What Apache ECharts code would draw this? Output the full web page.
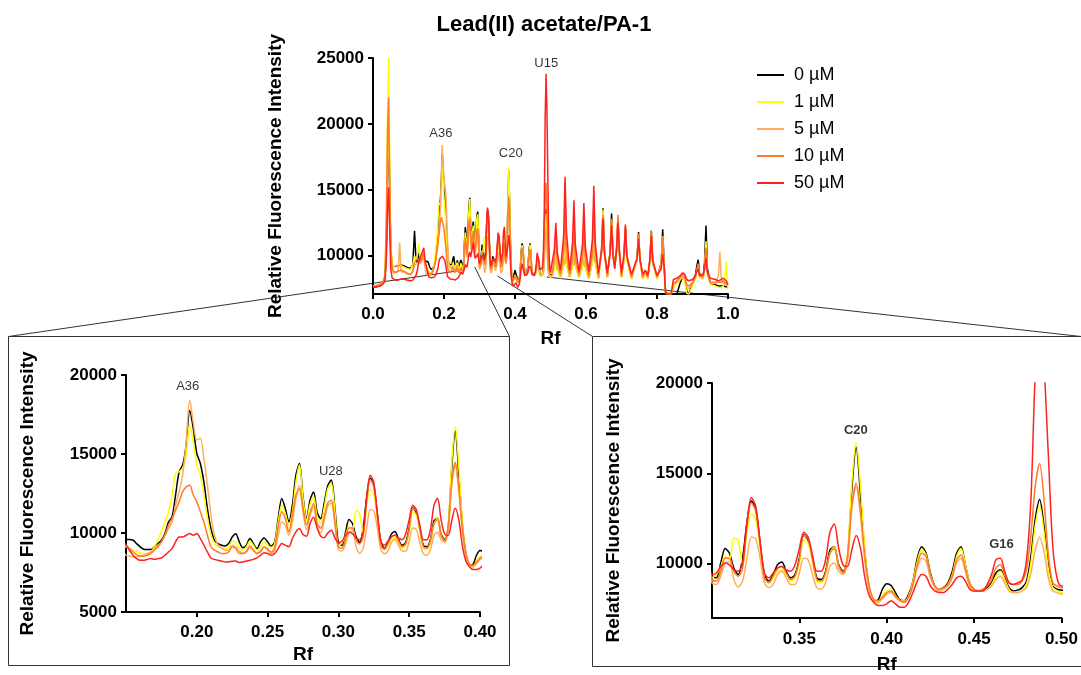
<!DOCTYPE html>
<html><head><meta charset="utf-8">
<script src="https://cdn.jsdelivr.net/npm/echarts@6/dist/echarts.min.js"></script>
<style>html,body{margin:0;padding:0;background:#fff}#c{width:1081px;height:675px}</style>
</head><body><div id="c"></div>
<script>
const FONT = '"Liberation Sans", Arial, Helvetica, sans-serif';
const seriesNames = ['0 µM', '1 µM', '5 µM', '10 µM', '50 µM'];
const seriesColors = ['#000000', '#FFFF00', '#FFAD5C', '#FF7C2A', '#FF2020'];

// ---------- Rf positions ----------
const rfA = [0,0.01,0.02,0.028,0.034,0.038,0.041,0.044,0.047,0.05,
  0.054,0.058,0.064,0.071,0.075,0.079,0.084,0.09,0.098,0.106,
  0.112,0.117,0.121,0.125,0.129,0.133,0.138,0.143,0.147];
const rfB = [0.15,0.1525,0.155,0.1575,0.16,0.1625,0.165,0.1675,0.17,0.1725,
  0.175,0.1775,0.18,0.1825,0.185,0.1875,0.19,0.1925,0.195,0.1975,
  0.2,0.2025,0.205,0.2075,0.21,0.2125,0.215,0.2175,0.22,0.2225,
  0.225,0.2275,0.23,0.2325,0.235,0.2375,0.24,0.2425,0.245,0.2475,
  0.25,0.2525,0.255,0.2575,0.26,0.2625,0.265,0.2675,0.27,0.2725,
  0.275,0.2775,0.28,0.2825,0.285,0.2875,0.29,0.2925,0.295,0.2975,
  0.3,0.3025,0.305,0.3075,0.31,0.3125,0.315,0.3175,0.32,0.3225,
  0.325,0.3275,0.33,0.3325,0.335,0.3375,0.34,0.3425,0.345,0.3475,
  0.35,0.3525,0.355,0.3575,0.36,0.3625,0.365,0.3675,0.37,0.3725,
  0.375,0.3775,0.38,0.3825,0.385,0.3875,0.39,0.3925,0.395,0.3975,
  0.4,0.4025,0.405,0.4075,0.41,0.4125,0.415,0.4175,0.42,0.4225,
  0.425,0.4275,0.43,0.4325,0.435,0.4375,0.44,0.4425,0.445,0.4475,
  0.45,0.4525,0.455,0.4575,0.46,0.4625,0.465,0.4675,0.47,0.4725,
  0.475,0.4775,0.48,0.4825,0.485,0.4875,0.49,0.4925,0.495,0.4975,
  0.5];
const rfC = [0.505,0.511,0.515,0.519,0.528,0.537,0.541,0.545,0.554,0.562,
  0.566,0.57,0.58,0.59,0.594,0.598,0.608,0.618,0.622,0.626,
  0.635,0.644,0.648,0.652,0.66,0.668,0.672,0.676,0.681,0.686,
  0.69,0.694,0.7,0.707,0.711,0.715,0.728,0.744,0.748,0.752,
  0.76,0.767,0.774,0.78,0.784,0.788,0.8,0.812,0.816,0.82,
  0.824,0.828,0.84,0.846,0.856,0.866,0.872,0.878,0.884,0.89,
  0.9,0.908,0.912,0.916,0.92,0.93,0.934,0.938,0.942,0.95,
  0.965,0.973,0.977,0.981,0.987,0.991,0.995,0.998,1.0];

// ---------- 0 µM ----------
const c0A = [7600,7650,7750,7900,8300,11000,16500,20300,15000,10500,
  9300,9100,9200,9200,9250,9300,9350,9200,9100,9050,
  9300,11900,9700,9500,10200,9700,9600,9800,9600];
const c0B = [9590,9590,9540,9330,9120,8970,8950,8950,9120,9330,
  9540,9960,10700,11020,12400,13870,14300,15570,17750,16620,
  15040,14400,13240,11550,10280,9540,9330,9230,9180,9330,
  9750,9960,9440,9060,9230,9650,9330,9010,9440,9690,
  9440,9170,9440,10920,12180,11550,10700,11760,13660,14400,
  12300,10900,12100,12600,11300,10900,11900,13000,13350,11600,
  9370,9220,10040,10850,10580,9760,9400,10320,12290,13470,
  13020,11210,9400,9040,9400,9950,10100,9580,9220,9400,
  10310,11600,11300,10310,9220,9130,9580,10760,10940,9940,
  9580,10310,14100,16450,13790,10580,8680,7960,8000,8590,
  8900,8800,8400,8000,7960,8300,9040,10310,10940,10580,
  9490,8770,8590,8680,8950,9580,10580,10940,9940,8950,
  8590,8500,8540,8680,8950,9490,9670,9220,8680,8500,
  8540,8680,9040,10400,12470,13560,12110,9940,8770,8590,
  8540];
const c0C = [8500,9200,10500,9000,8400,9300,11000,9400,8400,9300,
  11300,9300,8400,9200,11000,9200,8300,9600,12000,9600,
  8300,10500,13600,10400,8400,10300,13200,10200,9200,10400,
  12800,10300,8400,9800,12000,9800,8300,9800,11800,9700,
  8300,8800,8300,9600,11900,9500,8300,9500,12000,9500,
  7200,7100,7100,7100,7100,8000,8400,8300,7300,7100,
  7900,8500,9200,9700,8600,8400,9500,12300,9000,7900,
  7800,7700,7700,7700,7700,7650,7650,7600,7600];

// ---------- 1 µM ----------
const c1A = [7700,7750,7850,8000,8600,14000,21000,25000,17500,11000,
  9500,9100,9150,9150,9200,9250,9300,9100,9000,8950,
  9300,10000,9700,10000,10900,9800,9700,9900,9300];
const c1B = [9120,9060,8910,8800,8740,8700,8650,8800,9120,9540,
  10070,10700,11340,12400,13770,13870,14090,14930,16830,15780,
  14300,13660,12400,10920,9860,9330,9120,9060,9015,9120,
  9480,9400,9060,8910,9120,9480,9230,8910,9120,9440,
  9230,9060,9330,10700,11760,11230,10490,11340,13240,14300,
  12200,10800,11800,12290,11000,10600,11600,12800,13140,11400,
  9220,9400,9850,10400,10220,11430,11250,9940,11750,12750,
  12470,10940,9220,8950,9220,9580,9670,9400,9040,9220,
  10040,11300,11120,10130,9040,8950,9400,10580,10940,9850,
  9490,10490,14460,16720,14280,10760,8680,7870,7780,8230,
  8500,8590,8230,7960,7870,8200,9000,10130,10800,10490,
  9400,8770,8590,8590,8860,9400,10400,10850,9940,8950,
  8590,8500,8500,8590,8860,9310,9580,9130,8590,8410,
  8410,8500,8860,10040,12110,13200,11750,9670,8680,8500,
  8410];
const c1C = [8400,9100,10300,8900,8300,9200,10800,9300,8300,9200,
  11000,9200,8300,9100,10800,9100,8200,9500,11700,9500,
  8200,10500,13500,10300,8300,10100,12700,10000,9100,10200,
  12500,10100,8300,9700,11800,9700,8200,9700,11500,9600,
  8200,8700,8200,9500,11600,9400,8200,9400,11500,9300,
  7200,7100,7100,7500,7900,8200,8400,8000,7150,7100,
  7700,8200,8800,9300,8400,8200,9000,11100,8700,7800,
  7700,7600,7600,7600,7700,8200,9600,7800,7500];

// ---------- 5 µM ----------
const c5A = [7650,7700,7800,7950,8400,12000,17500,19500,14500,10000,
  9000,8700,8700,8800,11000,8800,8900,8700,8600,8550,
  8800,9300,9200,9400,9700,9400,9400,9900,9000];
const c5B = [8590,8550,8490,8490,8550,8590,8700,8800,9015,9230,
  9440,9860,10280,10700,11760,12600,13660,15780,18400,17000,
  15880,16000,14720,13030,11130,9860,9230,9060,8910,8910,
  9230,9120,8850,8700,8850,9230,8910,8700,8910,9120,
  8910,8700,8910,9860,10700,10490,9860,10700,12180,13030,
  11300,10200,11100,11700,10400,10000,10800,11700,11900,10600,
  8950,8860,9310,10040,10130,9130,8720,9040,10310,11480,
  11390,10310,8950,8680,8860,9400,9580,9220,8860,8860,
  9490,10310,10220,9400,8680,8590,8950,9850,10040,9580,
  9400,10130,13020,14280,12650,10130,8590,8000,7870,8050,
  8320,8410,8140,7960,7960,8140,8770,9760,10310,10130,
  9220,8680,8500,8590,8770,9220,10040,10310,9580,8770,
  8500,8500,8500,8590,8770,9130,9310,8950,8500,8410,
  8410,8500,8680,9490,10760,11480,10670,9220,8500,8410,
  8320];
const c5C = [8500,9500,11200,9300,8400,9800,12500,9900,8400,9600,
  12000,9500,8400,9500,12000,9500,8300,9900,13000,9900,
  8300,10300,12900,10200,8400,10100,12600,10000,9200,10400,
  12900,10300,8400,9900,12100,9900,8300,9700,11600,9600,
  8300,8800,8300,9600,11700,9500,8300,9300,11200,9300,
  7300,7100,7100,7800,8000,8300,8500,8200,7600,7500,
  7900,8300,8800,9200,8400,8300,9000,10500,8600,7900,
  7900,8500,10300,8200,7900,7900,7800,7800,7700];

// ---------- 10 µM ----------
const c10A = [7700,7750,7850,8000,8500,13500,19500,22000,16000,10500,
  9100,8800,8750,8850,9000,8900,8950,8800,8650,8600,
  8800,9500,9400,9800,9900,9500,9600,10200,9400];
const c10B = [9230,9015,8800,8630,8550,8530,8590,8700,8910,9120,
  9440,9860,10490,10920,11440,11970,12600,12920,13030,12400,
  11970,11340,10700,9860,9120,8910,8800,8700,8700,8800,
  9120,9015,8700,8700,8800,9120,8910,8700,8800,9120,
  9015,8800,9060,10390,11340,10920,10070,11130,12400,12800,
  11600,10500,11300,11870,10600,10300,11000,11900,12080,10700,
  9130,9040,9580,10310,10310,9580,9310,9760,12020,13380,
  12920,11120,9220,8950,9310,9760,9850,9490,9130,9310,
  10220,11570,11390,10220,9130,9040,9490,10580,10850,9850,
  9490,10400,13200,14460,12920,10400,8770,8050,7960,8140,
  8410,8500,8230,7960,7870,8140,8860,9940,10580,10400,
  9400,8770,8590,8680,8860,9310,10220,10490,9760,8860,
  8590,8500,8590,8770,9130,9760,9940,9400,8950,8860,
  8860,9040,9670,11570,14280,15540,13560,10490,8950,8770,
  8680];
const c10C = [8700,10000,11800,9800,8600,10300,13500,10400,8600,10000,
  12700,9900,8600,9900,12500,9900,8500,10300,13800,10300,
  8500,10500,13100,10300,8500,10300,12800,10200,9300,10600,
  13100,10400,8500,10100,12400,10000,8400,9900,11700,9800,
  8400,8900,8400,9800,11900,9700,8400,9300,11400,9300,
  7300,7100,7100,7900,8100,8400,8700,8500,7800,7700,
  8000,8400,8900,9400,8500,8400,9000,10600,8700,8000,
  8000,8000,8000,8000,8100,8000,7900,7900,7800];

// ---------- 50 µM ----------
const c50A = [7600,7650,7700,7850,8100,10000,13500,15200,12000,9000,
  8300,8200,8150,8150,8200,8250,8300,8200,8150,8100,
  8150,8300,8500,8900,9600,9700,10200,10600,9600];
const c50B = [9230,8910,8590,8380,8270,8270,8330,8380,8330,8380,
  8420,8590,8800,9010,9440,9750,9750,9860,9970,9860,
  9970,9650,9230,8800,8420,8330,8270,8230,8170,8170,
  8210,8230,8130,8170,8230,8270,8330,8420,8590,8750,
  8700,8590,8700,9010,9330,9230,9130,9650,10070,10280,
  9900,9800,10600,11000,10300,9800,9700,10000,10180,9700,
  9400,9490,9850,10040,9940,9670,9580,10040,12290,13650,
  13200,11210,9490,9220,9490,9760,9850,9670,9580,9940,
  10850,11750,11480,10490,9580,9580,10220,11750,12200,10850,
  9940,9850,10760,11570,10850,9220,8230,7870,7690,7690,
  7780,7960,7780,7600,7600,7870,8410,9040,9400,9310,
  8770,8500,8410,8410,8590,8860,9220,9310,9040,8590,
  8500,8500,8500,8860,9400,10220,10310,9580,8950,8860,
  8950,9100,10200,13500,20500,23800,21000,16000,11000,9200,
  8770];
const c50C = [8800,10500,12500,10300,8900,11500,16000,11800,8900,11000,
  14200,10800,8800,10800,14000,10700,8800,11200,15300,11000,
  8700,10400,12800,10200,8700,10200,12300,10000,9000,10400,
  12500,10300,8700,10100,12300,10000,8600,9800,11300,9700,
  8600,8900,8500,9700,11500,9600,8500,9000,10100,9200,
  7300,7100,7100,8200,8300,8500,8700,8600,8200,8100,
  8200,8500,8800,9000,8500,8600,9000,9800,8800,8300,
  8200,8100,8100,8200,8300,8350,8100,7950,7800];

// ---------- peak annotations ----------
const annoMainNames = ['A36', 'C20', 'U15'];
const annoMainRf = [0.191, 0.388, 0.488];
const annoMainVal = [19300, 17740, 24620];
const annoLeftNames = ['A36', 'U28'];
const annoLeftRf = [0.1936, 0.2947];
const annoLeftVal = [19260, 13905];
const annoRightNames = ['C20', 'G16'];
const annoRightRf = [0.3823, 0.4657];
const annoRightVal = [17384, 11083];

// ---------- axis ticks ----------
const mainYTicks = [10000, 15000, 20000, 25000];
const leftXTicks = [0.2, 0.25, 0.3, 0.35, 0.4];
const rightXTicks = [0.35, 0.4, 0.45, 0.5];
const rightYTicks = [10000, 15000, 20000];

const rf = rfA.concat(rfB, rfC);
const curves = [
  c0A.concat(c0B, c0C), c1A.concat(c1B, c1C), c5A.concat(c5B, c5C),
  c10A.concat(c10B, c10C), c50A.concat(c50B, c50C)
];
curves.forEach((c, i) => { if (c.length !== rf.length) throw new Error('len mismatch ' + i + ': ' + c.length + ' vs ' + rf.length); });

const chart = echarts.init(document.getElementById('c'), null, { renderer: 'canvas' });

const bold = (size) => ({ fontFamily: FONT, fontSize: size, fontWeight: 'bold', color: '#000' });
const axisLineStyle = { show: true, lineStyle: { color: '#000', width: 2 } };
const tickStyle = (vals) => {
  const t = { show: true, length: 5, lineStyle: { color: '#000', width: 2 } };
  if (vals) t.customValues = vals;
  return t;
};

function makeX(g, min, max, labelVals, decimals, nameGap, margin, interval) {
  const ax = {
    gridIndex: g, type: 'value', min: min, max: max,
    axisLine: axisLineStyle, splitLine: { show: false },
    axisTick: tickStyle(labelVals),
    axisLabel: Object.assign(bold(17), { margin: margin, formatter: (v) => Number(v).toFixed(decimals) }),
    name: 'Rf', nameLocation: 'middle', nameGap: nameGap, nameTextStyle: bold(19)
  };
  if (labelVals) ax.axisLabel.customValues = labelVals;
  if (interval) ax.interval = interval;
  return ax;
}
function makeY(g, min, max, labelVals, nameGap, interval) {
  const ax = {
    gridIndex: g, type: 'value', min: min, max: max,
    axisLine: axisLineStyle, splitLine: { show: false },
    axisTick: tickStyle(labelVals),
    axisLabel: Object.assign(bold(17), { margin: 9, formatter: (v) => String(v) }),
    name: 'Relative Fluorescence Intensity', nameLocation: 'middle', nameGap: nameGap,
    nameTextStyle: bold(19)
  };
  if (labelVals) ax.axisLabel.customValues = labelVals;
  if (interval) ax.interval = interval;
  return ax;
}

const series = [];
[0, 1, 2].forEach((g) => {
  curves.forEach((c, k) => {
    series.push({
      type: 'line', name: seriesNames[k], xAxisIndex: g, yAxisIndex: g,
      data: rf.map((x, i) => [x, c[i]]),
      symbol: 'none', showSymbol: false, clip: true,
      smooth: g === 0 ? false : 0.3,
      color: seriesColors[k],
      lineStyle: { color: seriesColors[k], width: g === 0 ? 1.5 : 1.5 },
      itemStyle: { color: seriesColors[k] },
      emphasis: { disabled: true }, animation: false, z: 2 + k
    });
  });
});
function annoSeries(g, names, xs, ys, isBold) {
  return {
    type: 'scatter', name: 'anno' + g, xAxisIndex: g, yAxisIndex: g,
    symbolSize: 1, itemStyle: { color: 'rgba(0,0,0,0)' },
    data: names.map((n, i) => ({ name: n, value: [xs[i], ys[i]] })),
    label: { show: true, position: 'inside', formatter: '{b}', fontFamily: FONT,
      fontSize: 13, fontWeight: isBold ? 'bold' : 'normal', color: '#000' },
    silent: true, animation: false, z: 10
  };
}
series.push(annoSeries(0, annoMainNames, annoMainRf, annoMainVal, false));
series.push(annoSeries(1, annoLeftNames, annoLeftRf, annoLeftVal, false));
series.push(annoSeries(2, annoRightNames, annoRightRf, annoRightVal, true));

chart.setOption({
  animation: false,
  backgroundColor: '#fff',
  title: { text: 'Lead(II) acetate/PA-1', left: 544, top: 14, padding: 0, textAlign: 'center',
    textStyle: bold(22) },
  legend: {
    orient: 'vertical', left: 752, top: 61, itemWidth: 27, itemHeight: 2, itemGap: 9,
    data: seriesNames.map((n) => ({ name: n, icon: 'rect' })),
    textStyle: { fontFamily: FONT, fontSize: 18, color: '#000', padding: [0, 0, 0, 5] },
    selectedMode: false
  },
  grid: [
    { left: 373, top: 58, width: 355, height: 236 },
    { left: 126, top: 375, width: 354, height: 237 },
    { left: 712, top: 383, width: 357, height: 239 }
  ],
  xAxis: [
    makeX(0, 0, 1, null, 1, 35, 12, 0.2),
    makeX(1, 0.15, 0.4, leftXTicks, 2, 33, 12),
    makeX(2, 0.3, 0.5, rightXTicks, 2, 37, 13)
  ],
  yAxis: [
    makeY(0, 7100, 25000, mainYTicks, 88),
    makeY(1, 5000, 20000, null, 89, 5000),
    makeY(2, 7000, 20000, rightYTicks, 89)
  ],
  series: series
});

// zoom-indicator lines and inset frames (decoration)
const px = (g, x, y) => chart.convertToPixel({ gridIndex: g }, [x, y]);
const lineEl = (a, b) => ({ type: 'line', z: 0, silent: true,
  shape: { x1: a[0], y1: a[1], x2: b[0], y2: b[1] },
  style: { stroke: '#333', lineWidth: 1 } });
chart.setOption({
  graphic: [
    { type: 'rect', z: 0, silent: true, shape: { x: 8.5, y: 336.5, width: 501, height: 329 },
      style: { fill: 'none', stroke: '#333', lineWidth: 1 } },
    { type: 'rect', z: 0, silent: true, shape: { x: 592.5, y: 336.5, width: 520, height: 330 },
      style: { fill: 'none', stroke: '#333', lineWidth: 1 } },
    lineEl([8.5, 336.5], px(0, 0.25, 8900)),
    lineEl([509.5, 336.5], px(0, 0.2865, 9146)),
    lineEl([592.5, 336.5], px(0, 0.351, 8465)),
    lineEl([1081, 336.5], px(0, 0.489, 8390))
  ]
});
</script></body></html>
